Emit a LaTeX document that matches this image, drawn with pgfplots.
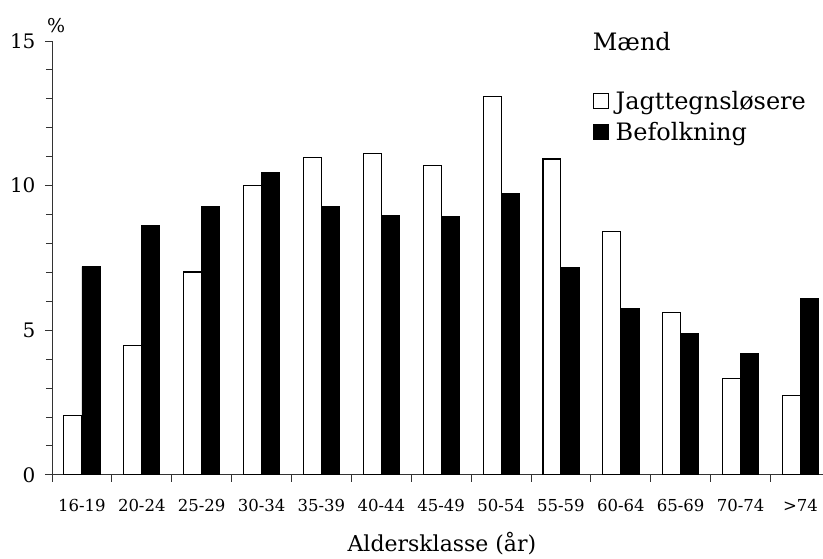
\documentclass[border=0pt]{standalone}
\usepackage{pgfplots}
\pgfplotsset{compat=1.18}
\usepackage{fontspec}
\setmainfont{DejaVu Serif}
\usetikzlibrary{calc}

\pgfplotstableread{
x w b
0 2.05 7.20
1 4.46 8.62
2 7.01 9.29
3 10.01 10.45
4 10.98 9.27
5 11.11 8.98
6 10.68 8.93
7 13.08 9.72
8 10.92 7.16
9 8.41 5.75
10 5.60 4.88
11 3.33 4.21
12 2.73 6.11
}\datatable

\begin{document}
\begin{tikzpicture}
\begin{axis}[
  scale only axis, width=771pt, height=434pt,
  xmin=-0.5, xmax=12.37, ymin=0, ymax=15,
  axis x line*=bottom, axis y line*=left,
  axis line style={line width=0.8pt, draw=black!80},
  every tick/.style={line width=0.8pt, draw=black!80},
  every minor tick/.style={line width=0.8pt, draw=black!80},
  tick align=outside,
  major tick length=7pt, minor tick length=6pt,
  ytick={0,5,10,15}, minor y tick num=4,
  /pgf/number format/assume math mode=true,
  yticklabel style={font=\fontsize{20}{22}\selectfont, xshift=-6pt},
  xtick={-0.5,0.5,...,12.5}, xticklabels={},
  extra x ticks={0,1,...,12},
  extra x tick labels={16-19,20-24,25-29,30-34,35-39,40-44,45-49,50-54,55-59,60-64,65-69,70-74,>74},
  extra x tick style={major tick length=0pt, xticklabel style={font=\fontsize{16.5}{18}\selectfont, yshift=-20.5pt}},
  xlabel={Aldersklasse (år)},
  xlabel style={font=\fontsize{22}{24}\selectfont, at={(rel axis cs:0.506,0)}, anchor=base, yshift=-77pt},
  ybar=0pt, bar width=18pt,
  clip=false,
  legend style={at={(rel axis cs:0.7015,0.889)}, anchor=north west, draw=none, fill=none,
    font=\fontsize{24}{26}\selectfont, row sep=7pt, inner sep=0pt,
    nodes={inner sep=2pt}},
  legend cell align=left,
]
\addplot[fill=white, draw=black, line width=1.1pt,
  legend image code/.code={\draw[fill=white, draw=black, line width=0.8pt] (0pt,-7.5pt) rectangle (15pt,7.5pt); \path (20pt,0pt);}]
  table[x=x, y=w] {\datatable};
\addlegendentry{Jagttegnsløsere}
\addplot[fill=black, draw=black, line width=0.6pt,
  legend image code/.code={\draw[fill=black, draw=black, line width=0.8pt] (0pt,-7.5pt) rectangle (15pt,7.5pt); \path (20pt,0pt);}]
  table[x=x, y=b] {\datatable};
\addlegendentry{Befolkning}
\node[anchor=base west, inner sep=0pt, font=\fontsize{24}{26}\selectfont] at (rel axis cs:0.7017,0.979) {Mænd};
\node[anchor=base west, inner sep=0pt, font=\fontsize{19}{20}\selectfont, xshift=-5pt, yshift=8pt] at (rel axis cs:0,1) {\%};
\coordinate (bl) at (rel axis cs:0,0);
\coordinate (tr) at (rel axis cs:1,1);
\end{axis}
\path ($(bl)+(-52pt,-82pt)$) rectangle ($(tr)+(0pt,41pt)$);
\end{tikzpicture}
\end{document}
